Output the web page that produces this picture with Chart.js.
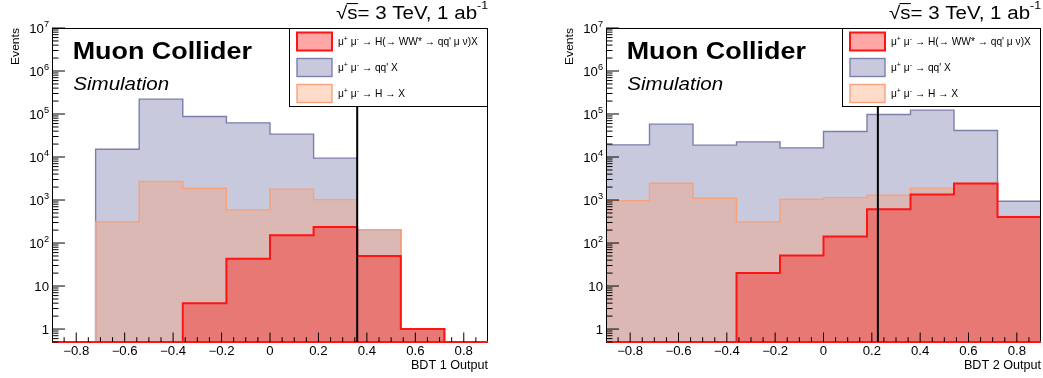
<!DOCTYPE html>
<html>
<head>
<meta charset="utf-8">
<title>BDT outputs</title>
<script src="https://cdn.jsdelivr.net/npm/chart.js@4.4.0/dist/chart.umd.min.js"></script>
<style>
body { margin: 0; background: #fff; }
.panel { position: absolute; top: 0; }
</style>
</head>
<body>
<canvas id="bdt1" class="panel" width="520" height="378" style="left:0"></canvas>
<canvas id="bdt2" class="panel" width="523" height="378" style="left:520px"></canvas>
<script>
// bins of the BDT output, 10 bins from -0.9 to 0.9
const binEdges = [-0.9, -0.72, -0.54, -0.36, -0.18, 0, 0.18, 0.36, 0.54, 0.72, 0.9];

// BDT 1 (events per bin, each process alone; drawn stacked like a THStack)
const bdt1Signal = [0, 0, 0, 4, 43, 152, 237, 50, 1, 0];
const bdt1Higgs  = [0, 310, 2690, 1880, 546, 1640, 786, 155, 0, 0];
const bdt1QQ     = [0, 14900, 219600, 85600, 61800, 32200, 8380, 0, 0, 0];
const bdt1Cut = 0.36;

// BDT 2
const bdt2Signal = [0, 0, 0, 20, 51, 141, 611, 1340, 2410, 405];
const bdt2Higgs  = [970, 2460, 1100, 290, 994, 997, 683, 547, 30, 8];
const bdt2QQ     = [18200, 55700, 17800, 22200, 15300, 38000, 96000, 121100, 39000, 525];
const bdt2Cut = 0.225;

const legendLabels = [
  "μ^{+} μ^{-} → H(→ WW* → qq' μ ν)X",
  "μ^{+} μ^{-} → qq' X",
  "μ^{+} μ^{-} → H → X"
];
const legendOrder = [0, 2, 1];   // signal, qq'X, H->X

const yTickValues = [1, 10, 100, 1e3, 1e4, 1e5, 1e6, 1e7];
const yTickLabels = ['1', '10', '10^{2}', '10^{3}', '10^{4}', '10^{5}', '10^{6}', '10^{7}'];
const xTickValues = [-0.8, -0.6, -0.4, -0.2, 0, 0.2, 0.4, 0.6, 0.8];
const xTickLabels = ['−0.8', '−0.6', '−0.4', '−0.2', '0', '0.2', '0.4', '0.6', '0.8'];

const header = '√s= 3 TeV, 1 ab^{-1}';
const Y_MIN = 0.5, Y_MAX = 1e7;
const FONT = "'Liberation Sans', Arial, Helvetica, sans-serif";

// split "a^{b}c" into [[text, isSup], ...]
function richParts(str) {
  const out = [];
  const re = /\^\{([^}]*)\}/g;
  let last = 0, m;
  while ((m = re.exec(str))) {
    if (m.index > last) out.push([str.slice(last, m.index), false]);
    out.push([m[1], true]);
    last = re.lastIndex;
  }
  if (last < str.length) out.push([str.slice(last), false]);
  return out;
}

function drawText(ctx, str, x, y, o) {
  const size = o.size, style = o.style || '', sx = o.sx || 1;
  const supScale = o.sup || 0.7, rise = o.rise || 0.45;
  const segs = richParts(str);
  const font = s => style + ' ' + s + 'px ' + FONT;
  let w = 0;
  segs.forEach(([t, sup]) => { ctx.font = font(sup ? size * supScale : size); w += ctx.measureText(t).width; });
  ctx.save();
  ctx.translate(x, y);
  if (o.rotate) ctx.rotate(o.rotate);
  ctx.scale(sx, 1);
  ctx.fillStyle = '#000';
  ctx.textBaseline = 'alphabetic';
  ctx.textAlign = 'left';
  let cx = o.align === 'right' ? -w : o.align === 'center' ? -w / 2 : 0;
  segs.forEach(([t, sup]) => {
    ctx.font = font(sup ? size * supScale : size);
    if (!sup && t.startsWith('√')) {
      // bar of the square root over the "s"
      const wr = ctx.measureText('√').width, ws = ctx.measureText('s').width;
      ctx.fillRect(cx + wr - 0.6, -size * 0.86, ws + 1, Math.max(1, size * 0.06));
    }
    ctx.fillText(t, cx, sup ? -size * rise : 0);
    cx += ctx.measureText(t).width;
  });
  ctx.restore();
}

function stepPoints(vals) {
  // empty bins sit on the bottom of the frame, as ROOT draws them
  return binEdges.map((x, i) => ({ x: x, y: Math.max(vals[Math.min(i, vals.length - 1)], Y_MIN) }));
}

function addUp(...arrs) {
  return arrs[0].map((_, i) => arrs.reduce((s, a) => s + a[i], 0));
}

const rootStyle = {
  id: 'rootStyle',
  beforeDraw(chart) {
    const ctx = chart.ctx;
    ctx.save();
    ctx.fillStyle = '#fff';
    ctx.fillRect(0, 0, chart.width, chart.height);
    ctx.restore();
  },
  afterDatasetsDraw(chart, args, opts) {
    const ctx = chart.ctx;
    const a = chart.chartArea;
    const xs = chart.scales.x, ys = chart.scales.y;
    const sig = chart.data.datasets[0];
    ctx.save();

    // frame
    ctx.strokeStyle = '#000';
    ctx.lineWidth = 1;
    ctx.beginPath();
    ctx.moveTo(a.left + 0.5, a.bottom);
    ctx.lineTo(a.left + 0.5, a.top + 0.5);
    ctx.lineTo(a.right - 0.5, a.top + 0.5);
    ctx.lineTo(a.right - 0.5, a.bottom);
    ctx.stroke();
    // closed outline of the signal histogram along the bottom
    ctx.strokeStyle = sig.borderColor;
    ctx.lineWidth = sig.borderWidth;
    ctx.beginPath();
    ctx.moveTo(a.left, a.bottom);
    ctx.lineTo(a.right, a.bottom);
    ctx.stroke();

    // ticks, drawn inside the frame
    ctx.strokeStyle = '#000';
    ctx.lineWidth = 1;
    ctx.beginPath();
    ys.ticks.forEach(t => {
      const lg = Math.log10(t.value);
      const major = Math.abs(lg - Math.round(lg)) < 1e-9;
      const py = ys.getPixelForValue(t.value);
      if (py < a.top - 0.5 || py > a.bottom + 0.5) return;
      ctx.moveTo(a.left, py);
      ctx.lineTo(a.left + (major ? 13 : 6.5), py);
    });
    xs.ticks.forEach(t => {
      const major = Math.abs(t.value * 5 - Math.round(t.value * 5)) < 1e-6;
      const px = xs.getPixelForValue(t.value);
      if (px <= a.left + 1 || px >= a.right - 1) return;
      ctx.moveTo(px, a.bottom);
      ctx.lineTo(px, a.bottom - (major ? 9.5 : 4.8));
    });
    ctx.stroke();

    // tick labels
    yTickValues.forEach((v, i) => {
      drawText(ctx, yTickLabels[i], a.left - 3, ys.getPixelForValue(v) + 4.5, { size: 12, align: 'right', sx: 1.1, sup: 0.7, rise: 0.45 });
    });
    xTickValues.forEach((v, i) => {
      drawText(ctx, xTickLabels[i], xs.getPixelForValue(v), a.bottom + 13, { size: 12, align: 'center', sx: 1.1 });
    });

    // axis titles
    drawText(ctx, opts.xTitle, a.right, a.bottom + 26.5, { size: 12, align: 'right', sx: 1.05 });
    drawText(ctx, 'Events', a.left - 33.5, a.top, { size: 11, align: 'right', rotate: -Math.PI / 2, sx: 1.1 });

    // cut line
    const cx = xs.getPixelForValue(opts.cut);
    ctx.strokeStyle = '#000';
    ctx.lineWidth = 2;
    ctx.beginPath();
    ctx.moveTo(cx, a.top);
    ctx.lineTo(cx, a.bottom);
    ctx.stroke();

    // legend box in the top right corner
    const lw = 199, lh = 79, lx = a.right - lw, ly = a.top;
    ctx.fillStyle = '#fff';
    ctx.fillRect(lx, ly, lw, lh);
    ctx.strokeStyle = '#000';
    ctx.lineWidth = 1;
    ctx.strokeRect(lx + 0.5, ly + 0.5, lw - 1, lh - 1);
    legendOrder.forEach((di, r) => {
      const ds = chart.data.datasets[di];
      const cy = ly + 13.5 + r * 26;
      ctx.fillStyle = ds.backgroundColor;
      ctx.fillRect(lx + 8, cy - 9, 35, 18);
      ctx.strokeStyle = ds.borderColor;
      ctx.lineWidth = ds.borderWidth;
      ctx.strokeRect(lx + 8, cy - 9, 35, 18);
      drawText(ctx, ds.label, lx + 49, cy + 3.7, { size: 10.2, sx: 1.0, sup: 0.7, rise: 0.4 });
    });

    // labels
    drawText(ctx, header, a.right, 18.5, { size: 18, align: 'right', sx: 1.14, sup: 0.6, rise: 0.55 });
    drawText(ctx, 'Muon Collider', a.left + 20.7, 58.5, { size: 24, style: 'bold', sx: 1.12 });
    drawText(ctx, 'Simulation', a.left + 21.3, 90, { size: 19, style: 'italic', sx: 1.08 });
    ctx.restore();
  }
};

function makePanel(id, signal, higgs, qq, cut, xTitle, yAxisWidth, padRight) {
  const line = { stepped: true, fill: 'start', pointRadius: 0, borderJoinStyle: 'miter' };
  new Chart(document.getElementById(id), {
    type: 'line',
    data: {
      datasets: [
        Object.assign({ label: legendLabels[0], data: stepPoints(signal),
          borderColor: '#ff1414', borderWidth: 2, backgroundColor: 'rgba(255,0,0,0.35)' }, line),
        Object.assign({ label: legendLabels[2], data: stepPoints(addUp(signal, higgs)),
          borderColor: '#f6a27c', borderWidth: 1.4, backgroundColor: 'rgba(255,153,98,0.345)' }, line),
        Object.assign({ label: legendLabels[1], data: stepPoints(addUp(signal, higgs, qq)),
          borderColor: '#7e7eae', borderWidth: 1.4, backgroundColor: 'rgba(100,100,160,0.35)' }, line)
      ]
    },
    options: {
      responsive: false,
      animation: false,
      devicePixelRatio: 1,
      layout: { padding: { top: 28, right: padRight, left: 0, bottom: 0 } },
      plugins: {
        legend: { display: false },
        tooltip: { enabled: false },
        rootStyle: { cut: cut, xTitle: xTitle }
      },
      scales: {
        x: {
          type: 'linear', min: -0.9, max: 0.9,
          ticks: { display: false }, grid: { display: false }, border: { display: false },
          afterBuildTicks: s => {
            s.ticks = [];
            for (let k = -18; k <= 18; k++) s.ticks.push({ value: Math.round(k * 5) / 100 });
          },
          afterFit: s => { s.height = 36; }
        },
        y: {
          type: 'logarithmic', min: Y_MIN, max: Y_MAX,
          ticks: { display: false }, grid: { display: false }, border: { display: false },
          afterBuildTicks: s => {
            s.ticks = [];
            for (let e = -1; e < 7; e++) {
              for (let m = 1; m <= 9; m++) {
                const v = m * Math.pow(10, e);
                if (v >= Y_MIN) s.ticks.push({ value: v });
              }
            }
            s.ticks.push({ value: Y_MAX });
          },
          afterFit: s => { s.width = yAxisWidth; }
        }
      }
    },
    plugins: [rootStyle]
  });
}

makePanel('bdt1', bdt1Signal, bdt1Higgs, bdt1QQ, bdt1Cut, 'BDT 1 Output', 52, 32);
makePanel('bdt2', bdt2Signal, bdt2Higgs, bdt2QQ, bdt2Cut, 'BDT 2 Output', 86, 2);
</script>
</body>
</html>
